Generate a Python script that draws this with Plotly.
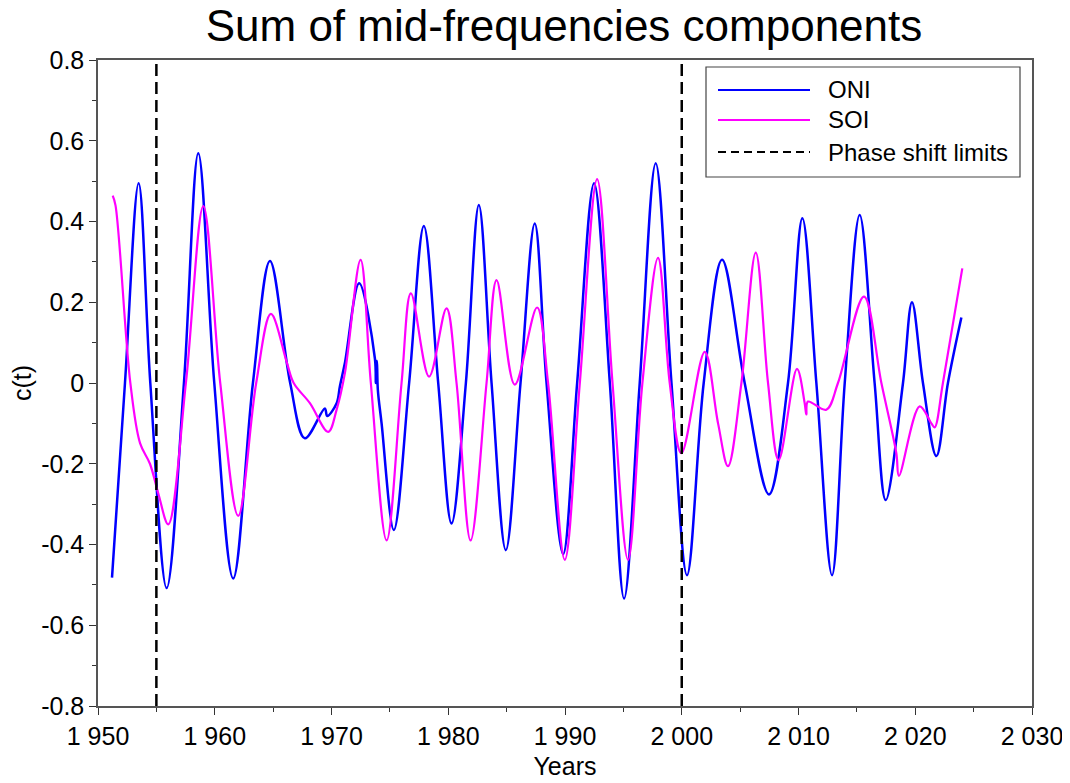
import plotly.graph_objects as go

# ---------------- data ----------------
oni_years = [1951.20, 1952.31, 1953.48, 1954.48, 1955.88, 1957.36, 1958.59, 1959.96,
             1961.58, 1963.27, 1964.73, 1966.46, 1967.72, 1969.43, 1969.63, 1970.44,
             1970.72, 1971.15, 1972.37, 1973.72, 1973.80, 1973.89, 1973.97, 1974.29,
             1975.34, 1976.65, 1977.91, 1979.14, 1980.28, 1981.51, 1982.62, 1983.71,
             1984.93, 1986.19, 1987.41, 1988.42, 1989.84, 1991.04, 1992.49, 1993.84,
             1995.06, 1996.40, 1997.77, 1999.12, 2000.45, 2001.88, 2003.45, 2005.39,
             2007.47, 2009.10, 2010.33, 2011.53, 2012.87, 2013.96, 2015.24, 2016.52,
             2017.47, 2018.95, 2019.72, 2020.66, 2021.81, 2022.80, 2023.95]
oni_values = [-0.482, 0.0, 0.495, 0.0, -0.508, 0.0, 0.569, 0.0,
              -0.484, 0.0, 0.302, 0.0, -0.137, -0.063, -0.082, -0.05,
              -0.008, 0.05, 0.247, 0.06, 0.0, 0.055, -0.017, -0.1,
              -0.364, 0.0, 0.389, 0.0, -0.348, 0.0, 0.441, 0.0,
              -0.414, 0.0, 0.395, 0.0, -0.424, 0.0, 0.495, 0.0,
              -0.534, 0.0, 0.544, 0.0, -0.476, 0.0, 0.305, 0.0,
              -0.276, 0.0, 0.408, 0.0, -0.476, 0.0, 0.416, 0.0,
              -0.29, 0.0, 0.2, 0.0, -0.181, 0.0, 0.162]

soi_years = [1951.26, 1951.50, 1952.77, 1953.60, 1954.45, 1955.16, 1956.02, 1957.53,
             1959.02, 1960.47, 1962.01, 1963.55, 1964.81, 1966.18, 1966.76, 1968.15,
             1969.72, 1970.44, 1971.15, 1972.49, 1973.37, 1974.72, 1976.00, 1976.80,
             1978.36, 1979.85, 1980.71, 1981.91, 1983.28, 1984.14, 1985.70, 1987.61,
             1988.55, 1989.98, 1991.27, 1992.75, 1994.07, 1995.40, 1996.63, 1997.97,
             1998.97, 1999.97, 2001.97, 2003.11, 2003.96, 2005.11, 2006.34, 2007.39,
             2008.30, 2009.87, 2010.53, 2010.67, 2010.81, 2012.38, 2013.38, 2015.61,
             2017.10, 2018.38, 2018.60, 2020.38, 2021.38, 2021.66, 2022.37, 2024.03]
soi_values = [0.464, 0.44, 0.0, -0.149, -0.2, -0.273, -0.35, 0.0,
              0.438, 0.0, -0.329, 0.0, 0.171, 0.05, 0.0, -0.05,
              -0.121, -0.066, 0.025, 0.305, 0.0, -0.39, 0.0, 0.222,
              0.016, 0.185, 0.0, -0.39, 0.0, 0.255, -0.004, 0.187,
              0.0, -0.438, 0.0, 0.505, 0.0, -0.438, 0.0, 0.31,
              0.0, -0.174, 0.077, -0.1, -0.206, 0.0, 0.323, 0.0,
              -0.191, 0.035, -0.05, -0.078, -0.046, -0.066, 0.0, 0.214,
              0.0, -0.174, -0.23, -0.058, -0.1, -0.11, 0.0, 0.284]

phase_shift_years = [1955, 2000]
y_limits = [-0.8, 0.8]

x_tick_vals = [1950, 1960, 1970, 1980, 1990, 2000, 2010, 2020, 2030]
x_tick_text = ["1 950", "1 960", "1 970", "1 980", "1 990", "2 000", "2 010", "2 020", "2 030"]
y_tick_vals = [-0.8, -0.6, -0.4, -0.2, 0, 0.2, 0.4, 0.6, 0.8]
y_tick_text = ["-0.8", "-0.6", "-0.4", "-0.2", "0", "0.2", "0.4", "0.6", "0.8"]

legend_labels = ["ONI", "SOI", "Phase shift limits"]
legend_colors = ["#0000FF", "#FF00FF", "#000000"]
legend_dashes = ["solid", "solid", "12px,6px"]

FONT = "Liberation Sans, Arial, sans-serif"

# page body adds an 8px offset; the figure is sized to compensate
OFF = 8
W, H = 1070 - OFF, 783 - OFF

# ---------------- figure ----------------
fig = go.Figure()

fig.add_trace(go.Scatter(x=oni_years, y=oni_values, mode="lines", name=legend_labels[0],
                         line=dict(color=legend_colors[0], width=2.5, shape="spline", smoothing=1.0)))
fig.add_trace(go.Scatter(x=soi_years, y=soi_values, mode="lines", name=legend_labels[1],
                         line=dict(color=legend_colors[1], width=2.2, shape="spline", smoothing=1.0)))

vx, vy = [], []
for yr in phase_shift_years:
    vx += [yr, yr, None]
    vy += [y_limits[0], y_limits[1], None]
fig.add_trace(go.Scatter(x=vx, y=vy, mode="lines", name=legend_labels[2],
                         line=dict(color=legend_colors[2], width=2.5, dash=legend_dashes[2])))

# plot area in reference pixel coordinates
L, R, T, B = 98, 1032, 60, 706
def px(xp):
    return (xp - L) / (R - L)
def py(yp):
    return (B - yp) / (B - T)

# manual legend (long line samples like the reference)
shapes = [dict(type="rect", xref="paper", yref="paper",
               x0=px(706), x1=px(1020), y0=py(177), y1=py(67),
               line=dict(color="#444444", width=1.2), fillcolor="white", layer="above")]
annotations = []
rows_y = [90, 120, 152]
for lab, col, dsh, ry in zip(legend_labels, legend_colors, ["solid", "solid", "8px,5px"], rows_y):
    shapes.append(dict(type="line", xref="paper", yref="paper",
                       x0=px(718), x1=px(810), y0=py(ry), y1=py(ry),
                       line=dict(color=col, width=2, dash=dsh), layer="above"))
    annotations.append(dict(x=px(826), y=py(ry), xref="paper", yref="paper",
                            text=lab, showarrow=False, xanchor="left", yanchor="middle",
                            font=dict(family=FONT, size=24, color="black")))

fig.update_layout(
    width=W, height=H,
    paper_bgcolor="white", plot_bgcolor="white",
    margin=dict(l=L - OFF, r=W - (R - OFF), t=T - OFF, b=H - (B - OFF), autoexpand=False),
    showlegend=False,
    title=dict(text="Sum of mid-frequencies components", x=(564 - OFF) / W, xanchor="center",
               y=1 - (26 - OFF) / H, yanchor="middle", yref="container",
               font=dict(family=FONT, size=44, color="black")),
    font=dict(family=FONT, color="black"),
    shapes=shapes, annotations=annotations,
)

fig.update_xaxes(range=[1950, 2030], tickmode="array", tickvals=x_tick_vals, ticktext=x_tick_text,
                 ticks="outside", ticklen=7, tickwidth=1.2, tickcolor="#333333",
                 tickfont=dict(family=FONT, size=25, color="black"),
                 showline=True, linecolor="#555555", linewidth=1.5, mirror=True,
                 showgrid=False, zeroline=False, automargin=False,
                 minor=dict(tickmode="linear", tick0=1955, dtick=10, ticks="outside", ticklen=4,
                            tickcolor="#333333", showgrid=False),
                 title=dict(text="Years", standoff=9, font=dict(family=FONT, size=25, color="black")))
fig.update_yaxes(range=y_limits, tickmode="array", tickvals=y_tick_vals, ticktext=y_tick_text,
                 ticks="outside", ticklen=7, tickwidth=1.2, tickcolor="#333333",
                 tickfont=dict(family=FONT, size=25, color="black"),
                 showline=True, linecolor="#555555", linewidth=1.5, mirror=True,
                 showgrid=False, zeroline=False, automargin=False,
                 minor=dict(tickmode="linear", tick0=-0.7, dtick=0.2, ticks="outside", ticklen=4,
                            tickcolor="#333333", showgrid=False),
                 title=dict(text="c(t)", standoff=8, font=dict(family=FONT, size=25, color="black")))

fig.write_html("out.html")
